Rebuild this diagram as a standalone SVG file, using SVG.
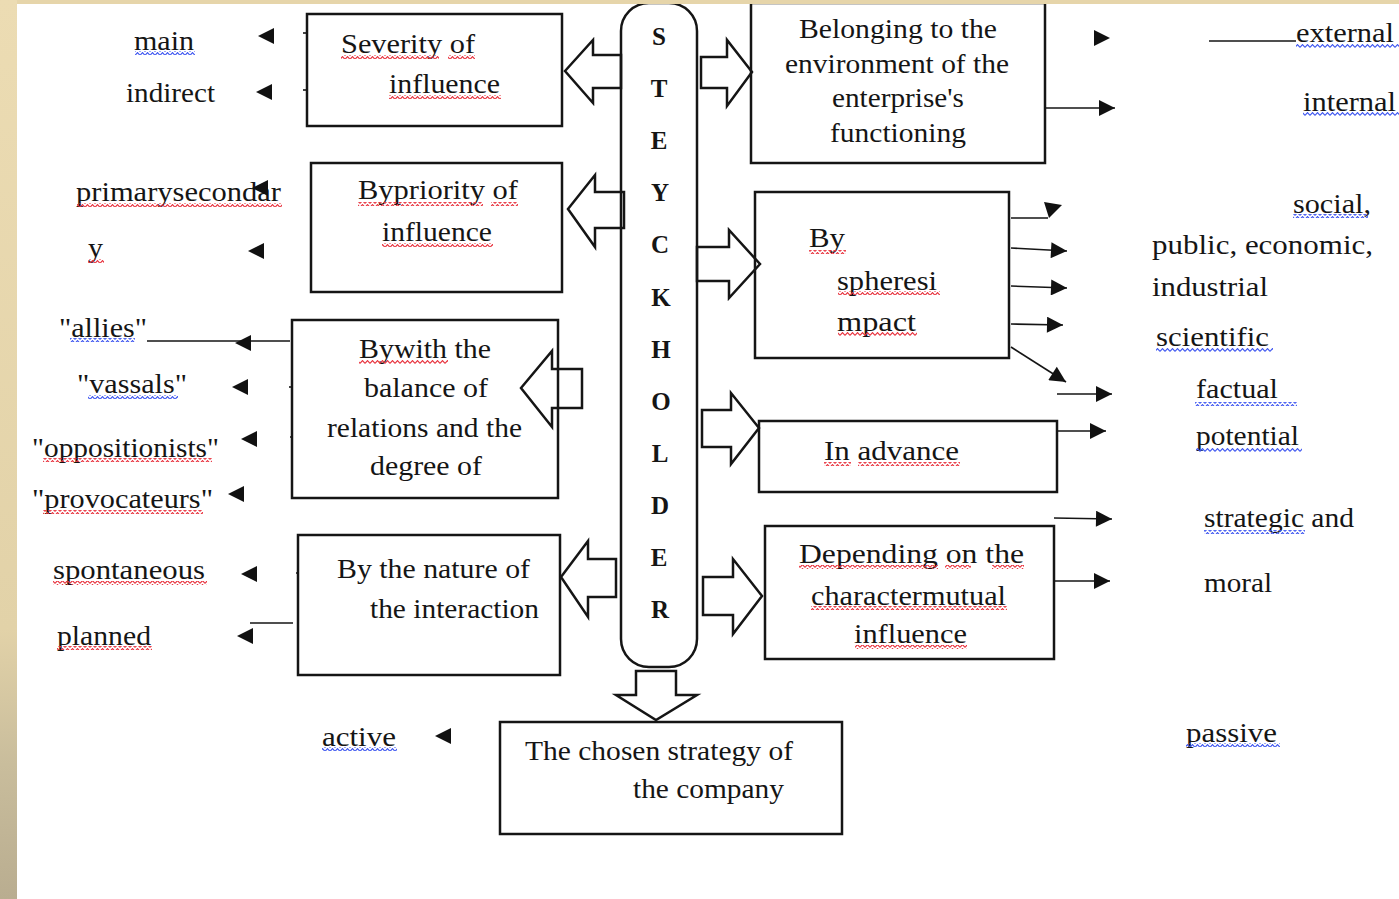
<svg xmlns="http://www.w3.org/2000/svg" xmlns:xlink="http://www.w3.org/1999/xlink" width="1399" height="899" viewBox="0 0 1399 899">
  <defs>
    <linearGradient id="edgeGrad" x1="0" y1="0" x2="0" y2="1">
      <stop offset="0" stop-color="#ecdcb3"/>
      <stop offset="0.7" stop-color="#e2d2a8"/>
      <stop offset="0.85" stop-color="#c9bd9c"/>
      <stop offset="1" stop-color="#b9ad90"/>
    </linearGradient>
    <!-- spell-check style wavy underlines -->
    <pattern id="waveRed" width="5" height="4" patternUnits="userSpaceOnUse">
      <path d="M0,3.4 L2.5,0.6 L5,3.4" fill="none" stroke="#e8303c" stroke-width="1.1"/>
    </pattern>
    <pattern id="waveBlue" width="5" height="4" patternUnits="userSpaceOnUse">
      <path d="M0,3.4 L2.5,0.6 L5,3.4" fill="none" stroke="#3d55f0" stroke-width="1.1"/>
    </pattern>
    <path id="triL" d="M0,0 L16,-8 L16,8 Z"/>
    <path id="triR" d="M0,0 L-16,-8 L-16,8 Z"/>
    <marker id="head" viewBox="0 0 10 10" refX="10" refY="5" markerUnits="userSpaceOnUse" markerWidth="17" markerHeight="16" orient="auto">
      <path d="M0,0 L10,5 L0,10 Z" fill="#111"/>
    </marker>
    <style>
      text { font-family: "Liberation Serif", "Times New Roman", serif; font-size: 27px; fill: #151515; }
      .letter { font-weight: bold; font-size: 25px; text-anchor: middle; }
      .box { fill: none; stroke: #151515; stroke-width: 2.5; }
      .block { fill: none; stroke: #151515; stroke-width: 2.5; stroke-linejoin: miter; }
      .line { fill: none; stroke: #151515; stroke-width: 1.6; }
      .tri { fill: #111; }
      .wr { fill: url(#waveRed); }
      .wb { fill: url(#waveBlue); }
    </style>
  </defs>

  <rect x="0" y="0" width="1399" height="899" fill="#ffffff"/>

  <!-- central STEYCKHOLDER pill -->
  <g id="stakeholder">
    <rect x="621" y="3" width="76" height="664" rx="28" ry="28" class="box"/>
    <text class="letter" x="659" y="45">S</text>
    <text class="letter" x="659" y="97">T</text>
    <text class="letter" x="659" y="149">E</text>
    <text class="letter" x="660" y="201">Y</text>
    <text class="letter" x="660" y="253">C</text>
    <text class="letter" x="661" y="306">K</text>
    <text class="letter" x="661" y="358">H</text>
    <text class="letter" x="661" y="410">O</text>
    <text class="letter" x="660" y="462">L</text>
    <text class="letter" x="660" y="514">D</text>
    <text class="letter" x="659" y="566">E</text>
    <text class="letter" x="660" y="618">R</text>
  </g>

  <!-- left boxes -->
  <g id="box-severity">
    <rect x="307" y="14" width="255" height="112" class="box"/>
    <text x="341" y="53" textLength="134" lengthAdjust="spacingAndGlyphs">Severity of</text>
    <text x="389" y="93" textLength="111" lengthAdjust="spacingAndGlyphs">influence</text>
    <rect class="wr" x="341" y="55" width="98" height="4"/>
    <rect class="wr" x="448" y="55" width="27" height="4"/>
    <rect class="wr" x="389" y="95" width="112" height="4"/>
  </g>

  <g id="box-priority">
    <rect x="311" y="163" width="251" height="129" class="box"/>
    <text x="358" y="199" textLength="160" lengthAdjust="spacingAndGlyphs">Bypriority of</text>
    <text x="382" y="241" textLength="110" lengthAdjust="spacingAndGlyphs">influence</text>
    <rect class="wr" x="358" y="202" width="125" height="4"/>
    <rect class="wr" x="491" y="202" width="27" height="4"/>
    <rect class="wr" x="382" y="243" width="111" height="4"/>
  </g>

  <g id="box-balance">
    <rect x="292" y="320" width="266" height="178" class="box"/>
    <text x="359" y="358" textLength="132" lengthAdjust="spacingAndGlyphs">Bywith the</text>
    <text x="364" y="397" textLength="124" lengthAdjust="spacingAndGlyphs">balance of</text>
    <text x="327" y="437" textLength="195" lengthAdjust="spacingAndGlyphs">relations and the</text>
    <text x="370" y="475" textLength="112" lengthAdjust="spacingAndGlyphs">degree of</text>
    <rect class="wr" x="359" y="360" width="89" height="4"/>
  </g>

  <g id="box-nature">
    <rect x="298" y="535" width="262" height="140" class="box"/>
    <text x="337" y="578" textLength="193" lengthAdjust="spacingAndGlyphs">By the nature of</text>
    <text x="370" y="618" textLength="169" lengthAdjust="spacingAndGlyphs">the interaction</text>
  </g>

  <g id="box-strategy">
    <rect x="500" y="722" width="342" height="112" class="box"/>
    <text x="525" y="760" textLength="268" lengthAdjust="spacingAndGlyphs">The chosen strategy of</text>
    <text x="633" y="798" textLength="151" lengthAdjust="spacingAndGlyphs">the company</text>
  </g>

  <!-- right boxes -->
  <g id="box-environment">
    <rect x="751" y="3" width="294" height="160" class="box"/>
    <text x="799" y="38" textLength="198" lengthAdjust="spacingAndGlyphs">Belonging to the</text>
    <text x="785" y="73" textLength="224" lengthAdjust="spacingAndGlyphs">environment of the</text>
    <text x="832" y="107" textLength="132" lengthAdjust="spacingAndGlyphs">enterprise's</text>
    <text x="830" y="142" textLength="136" lengthAdjust="spacingAndGlyphs">functioning</text>
  </g>

  <g id="box-sphere">
    <rect x="755" y="192" width="254" height="166" class="box"/>
    <text x="809" y="247" textLength="36" lengthAdjust="spacingAndGlyphs">By</text>
    <text x="837" y="290" textLength="100" lengthAdjust="spacingAndGlyphs">spheresi</text>
    <text x="837" y="331" textLength="79" lengthAdjust="spacingAndGlyphs">mpact</text>
    <rect class="wr" x="809" y="250" width="37" height="4"/>
    <rect class="wr" x="838" y="291" width="102" height="4"/>
    <rect class="wr" x="838" y="332" width="79" height="4"/>
  </g>

  <g id="box-advance">
    <rect x="759" y="421" width="298" height="71" class="box"/>
    <text x="824" y="460" textLength="135" lengthAdjust="spacingAndGlyphs">In advance</text>
    <rect class="wr" x="824" y="462" width="27" height="4"/>
    <rect class="wr" x="858" y="462" width="102" height="4"/>
  </g>

  <g id="box-mutual">
    <rect x="765" y="526" width="289" height="133" class="box"/>
    <text x="799" y="563" textLength="225" lengthAdjust="spacingAndGlyphs">Depending on the</text>
    <text x="811" y="605" textLength="195" lengthAdjust="spacingAndGlyphs">charactermutual</text>
    <text x="854" y="643" textLength="113" lengthAdjust="spacingAndGlyphs">influence</text>
    <rect class="wr" x="799" y="565" width="139" height="4"/>
    <rect class="wr" x="945" y="565" width="26" height="4"/>
    <rect class="wr" x="992" y="565" width="32" height="4"/>
    <rect class="wr" x="811" y="606" width="196" height="4"/>
    <rect class="wr" x="855" y="645" width="112" height="4"/>
  </g>

  <!-- left-hand labels -->
  <g id="label-main"><text x="134" y="50" textLength="60" lengthAdjust="spacingAndGlyphs">main</text><rect class="wb" x="135" y="51" width="60" height="4"/></g>
  <g id="label-indirect"><text x="126" y="102" textLength="89" lengthAdjust="spacingAndGlyphs">indirect</text></g>
  <g id="label-primary"><text x="76" y="201" textLength="205" lengthAdjust="spacingAndGlyphs">primarysecondar</text><rect class="wr" x="77" y="203" width="205" height="4"/></g>
  <g id="label-y"><text x="88" y="257" textLength="15" lengthAdjust="spacingAndGlyphs">y</text><rect class="wr" x="88" y="259" width="16" height="4"/></g>
  <g id="label-allies"><text x="59" y="337" textLength="88" lengthAdjust="spacingAndGlyphs">"allies"</text><rect class="wb" x="70" y="338" width="65" height="4"/></g>
  <g id="label-vassals"><text x="77" y="393" textLength="110" lengthAdjust="spacingAndGlyphs">"vassals"</text><rect class="wb" x="88" y="395" width="90" height="4"/></g>
  <g id="label-oppositionists"><text x="32" y="457" textLength="187" lengthAdjust="spacingAndGlyphs">"oppositionists"</text><rect class="wr" x="43" y="458" width="169" height="4"/></g>
  <g id="label-provocateurs"><text x="32" y="508" textLength="181" lengthAdjust="spacingAndGlyphs">"provocateurs"</text><rect class="wr" x="43" y="510" width="160" height="4"/></g>
  <g id="label-spontaneous"><text x="53" y="579" textLength="152" lengthAdjust="spacingAndGlyphs">spontaneous</text><rect class="wr" x="53" y="581" width="154" height="4"/></g>
  <g id="label-planned"><text x="57" y="645" textLength="94" lengthAdjust="spacingAndGlyphs">planned</text><rect class="wr" x="57" y="646" width="95" height="4"/></g>
  <g id="label-active"><text x="322" y="746" textLength="74" lengthAdjust="spacingAndGlyphs">active</text><rect class="wb" x="322" y="747" width="75" height="4"/></g>

  <!-- right-hand labels -->
  <g id="label-external"><text x="1296" y="42" textLength="98" lengthAdjust="spacingAndGlyphs">external</text><rect class="wb" x="1296" y="44" width="103" height="4"/></g>
  <g id="label-internal"><text x="1303" y="111" textLength="93" lengthAdjust="spacingAndGlyphs">internal</text><rect class="wb" x="1303" y="112" width="96" height="4"/></g>
  <g id="label-social"><text x="1293" y="213" textLength="78" lengthAdjust="spacingAndGlyphs">social,</text><rect class="wb" x="1293" y="214" width="75" height="4"/></g>
  <g id="label-public"><text x="1152" y="254" textLength="221" lengthAdjust="spacingAndGlyphs">public, economic,</text></g>
  <g id="label-industrial"><text x="1152" y="296" textLength="116" lengthAdjust="spacingAndGlyphs">industrial</text></g>
  <g id="label-scientific"><text x="1156" y="346" textLength="113" lengthAdjust="spacingAndGlyphs">scientific</text><rect class="wb" x="1156" y="348" width="117" height="4"/></g>
  <g id="label-factual"><text x="1196" y="398" textLength="82" lengthAdjust="spacingAndGlyphs">factual</text><rect class="wb" x="1195" y="402" width="102" height="4"/></g>
  <g id="label-potential"><text x="1196" y="445" textLength="103" lengthAdjust="spacingAndGlyphs">potential</text><rect class="wb" x="1196" y="448" width="106" height="4"/></g>
  <g id="label-strategic"><text x="1204" y="527" textLength="150" lengthAdjust="spacingAndGlyphs">strategic and</text><rect class="wb" x="1204" y="530" width="101" height="4"/></g>
  <g id="label-moral"><text x="1204" y="592" textLength="68" lengthAdjust="spacingAndGlyphs">moral</text></g>
  <g id="label-passive"><text x="1186" y="742" textLength="91" lengthAdjust="spacingAndGlyphs">passive</text><rect class="wb" x="1186" y="743" width="94" height="4"/></g>

  <!-- connectors -->
  <g id="connectors">
    <!-- block arrows out of the pill -->
    <polygon class="block" points="565,71 593,40 593,55 621,55 621,88 593,88 593,103"/>
    <polygon class="block" points="568,209 595,175 595,192 624,192 624,228 595,228 595,247"/>
    <polygon class="block" points="521,388 552,351 552,369 582,369 582,408 552,408 552,427"/>
    <polygon class="block" points="561,577 588,541 588,559 616,559 616,597 588,597 588,617"/>
    <polygon class="block" points="701,57 727,57 727,40 752,72 727,106 727,88 701,88"/>
    <polygon class="block" points="697,247 729,247 729,230 760,264 729,298 729,281 697,281"/>
    <polygon class="block" points="702,410 731,410 731,393 759,428 731,464 731,447 702,447"/>
    <polygon class="block" points="703,577 733,577 733,559 762,596 733,634 733,615 703,615"/>
    <polygon class="block" points="636,671 676,671 676,695 697,695 656,720 616,695 636,695"/>

    <!-- small pointers on the left -->
    <use href="#triL" class="tri" x="258" y="36"/>
    <use href="#triL" class="tri" x="256" y="92"/>
    <use href="#triL" class="tri" x="252" y="188"/>
    <use href="#triL" class="tri" x="248" y="251"/>
    <line class="line" x1="147" y1="341" x2="290" y2="341"/>
    <use href="#triL" class="tri" x="235" y="343"/>
    <use href="#triL" class="tri" x="232" y="387"/>
    <use href="#triL" class="tri" x="241" y="439"/>
    <use href="#triL" class="tri" x="228" y="494"/>
    <use href="#triL" class="tri" x="241" y="574"/>
    <line class="line" x1="250" y1="623" x2="293" y2="623"/>
    <use href="#triL" class="tri" x="237" y="636"/>
    <use href="#triL" class="tri" x="435" y="736"/>
    <!-- stubs on left box edges -->
    <line class="line" x1="303" y1="33" x2="307" y2="33"/>
    <line class="line" x1="303" y1="90" x2="307" y2="90"/>
    <line class="line" x1="289" y1="387" x2="292" y2="387"/>
    <line class="line" x1="290" y1="437" x2="292" y2="437"/>
    <line class="line" x1="296" y1="573" x2="298" y2="573"/>

    <!-- pointers on the right -->
    <use href="#triR" class="tri" x="1110" y="38"/>
    <line class="line" x1="1209" y1="41" x2="1296" y2="41"/>
    <line class="line" x1="1046" y1="108" x2="1115" y2="108" marker-end="url(#head)"/>
    <polyline class="line" points="1011,218 1048,218"/>
    <polygon class="tri" points="1044,202 1062,205 1049,218"/>
    <line class="line" x1="1011" y1="248" x2="1067" y2="251" marker-end="url(#head)"/>
    <line class="line" x1="1011" y1="286" x2="1067" y2="288" marker-end="url(#head)"/>
    <line class="line" x1="1011" y1="324" x2="1063" y2="325" marker-end="url(#head)"/>
    <line class="line" x1="1011" y1="347" x2="1066" y2="382" marker-end="url(#head)"/>
    <line class="line" x1="1057" y1="394" x2="1112" y2="394" marker-end="url(#head)"/>
    <line class="line" x1="1057" y1="431" x2="1106" y2="431" marker-end="url(#head)"/>
    <line class="line" x1="1054" y1="518" x2="1112" y2="519" marker-end="url(#head)"/>
    <line class="line" x1="1054" y1="581" x2="1110" y2="581" marker-end="url(#head)"/>
  </g>

  <!-- textured page edge -->
  <rect x="0" y="0" width="1399" height="4" fill="#e6d5aa"/>
  <rect x="0" y="0" width="17" height="899" fill="url(#edgeGrad)"/>
</svg>
